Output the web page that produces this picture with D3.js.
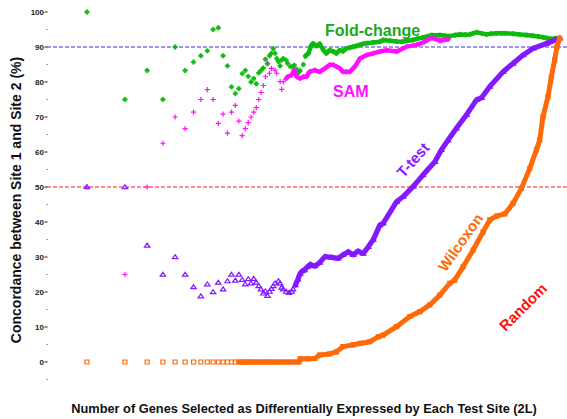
<!DOCTYPE html>
<html>
<head>
<meta charset="utf-8">
<script src="https://cdn.jsdelivr.net/npm/d3@7"></script>
<style>
  body { margin: 0; background: #fff; }
  svg { display: block; font-family: "Liberation Sans", Arial, sans-serif; font-weight: bold; }
</style>
</head>
<body>
<svg width="567" height="419"></svg>
<script>
// [L, concordance %]
const foldChange = [
  [1,100],[2,75],[3,83.3],[4,75],[5,90],[6,83.3],[7,85.7],[8,87.5],[9,88.9],[10,95],
  [11,95.5],[12,87.5],[13,84.6],[14,78.6],[15,76.7],[16,78.1],[17,82.4],[18,83.3],[19,81.6],[20,80],
  [21,81],[22,79.5],[23,82.6],[24,83.3],[25,84],[26,86.5],[27,85.2],[28,87.5],[29,88.2],[30,89.5],
  [31,88.2],[32,86.7],[33,85.8],[34,84.6],[35,86.3],[36,86.7],[38,86.2],[39,85.3],[41,84.4],[43,84.4],
  [44,84.8],[46,83.6],[47,82.5],[49,83.2],[52,85],[54,87.4],[57,88.2],[60,90.4],[62,91],[66,90.3],
  [70,90.9],[75,89.1],[79,88.2],[84,89.1],[90,88.7],[95,88.2],[101,89.1],[107,88.8],[114,89.6],[121,89.8],
  [129,90.1],[137,90.3],[146,90.6],[155,90.9],[165,91.1],[186,91.3],[210,91.5],[223,92],[252,91.8],[285,91.6],
  [319,91.5],[350,91.8],[383,92],[420,92.4],[460,92.7],[500,93],[539,93.4],[580,93.3],[628,93.4],[690,93.2],
  [753,93.1],[830,93.4],[904,93.6],[1000,93.5],[1085,93.6],[1150,93.9],[1226,94.2],[1350,93.9],[1472,93.6],[1600,93.8],
  [1766,93.9],[1950,93.9],[2090,93.9],[2400,93.8],[2698,93.6],[3050,93.4],[3444,93.2],[3800,93],[4131,92.8],[4500,92.5],
  [4810,92.3],[5200,92.5],[5600,92.5]
];

const sam = [
  [1,50],[2,25],[3,50],[4,62.5],[5,70],[6,66.7],[7,71.4],[8,75],[9,77.8],[10,75],
  [11,68.2],[12,70.8],[13,65.4],[14,71.4],[15,73.3],[16,68.8],[17,64.7],[18,66.7],[19,68.4],[20,70],
  [21,71.4],[22,72.7],[23,75],[24,77],[25,79],[26,81.5],[27,85.3],[28,82.5],[29,83.9],[31,83.4],
  [32,82.5],[34,80.1],[35,77.9],[36,80.1],[38,81],[39,81.5],[42,82],[44,83.4],[46,81.5],[49,81],
  [52,81.5],[55,81.5],[58,82.9],[64,83.4],[70,82.9],[77,83.9],[84,84.9],[90,84.9],[95,84.4],[101,83.9],
  [107,82.9],[114,82.9],[121,82.9],[133,84.4],[146,86.7],[165,87.7],[186,88.2],[210,88.7],[237,89.1],[285,88.7],
  [342,90.1],[410,90.6],[477,91.5],[539,92.7],[628,91.8],[730,92.2]
];

const tTest = [
  [1,50],[2,50],[3,33.3],[4,25],[5,30],[6,25],[7,21.4],[8,18.8],[9,22.2],[10,20],
  [11,22.7],[12,20.8],[13,23.1],[14,25],[15,23.3],[16,25],[17,23.5],[18,22.2],[19,23.7],[20,22.5],
  [21,23.8],[22,22.7],[23,21.7],[24,20.8],[25,19.6],[26,20.2],[27,18.9],[28,20.1],[29,20.9],[30,21.7],
  [31,22.5],[33,23.1],[34,22.5],[35,21.3],[36,20.8],[38,20.1],[40,19.8],[42,20.1],[43,20.8],[45,22],
  [47,23.6],[49,25.3],[51,26],[53,26.3],[56,27.2],[59,27.9],[64,27.4],[70,28.4],[77,30.1],[87,29.9],
  [98,29.6],[107,30.6],[118,31.5],[129,30.6],[141,31.7],[155,31],[170,32.9],[186,34.9],[210,39.1],[223,39.6],
  [285,45.8],[320,47.2],[385,50.1],[461,53.4],[573,57.2],[645,60.6],[730,63.4],[850,66.8],[1021,70.6],[1226,74.9],
  [1344,75.5],[1563,78.7],[1993,82.9],[2387,85.3],[2870,87.7],[3444,89.6],[4394,91],[5600,92.5]
];

const wilcoxon = [
  [1,0],[2,0],[3,0],[4,0],[5,0],[6,0],[7,0],[8,0],[9,0],[10,0],
  [11,0],[12,0],[13,0],[14,0],[15,0],[16,0],[17,0],[18,0],[19,0],[20,0],
  [22,0],[24,0],[26,0],[28,0],[30,0],[33,0],[36,0],[40,0],[44,0],[48,0],
  [49,0.9],[56,0.9],[64,1],[70,2],[84,2.3],[95,2.9],[107,4.4],[129,4.9],[146,5.3],[175,5.8],
  [204,7.2],[223,7.7],[285,10.1],[363,13],[436,14.4],[523,16.3],[628,19.1],[753,22.5],[824,23.4],[960,27.2],
  [1153,32],[1384,37.2],[1563,40.6],[1766,41.7],[2056,42.3],[2387,45.3],[2784,49.6],[3242,55.3],[3663,60.6],[3888,63.4],
  [4131,70.1],[4523,75.8],[4810,81.5],[5110,86.3],[5330,90.1],[5600,92.5]
];

const yTicks = [0, 10, 20, 30, 40, 50, 60, 70, 80, 90, 100];
const yMinorTicks = [-5, 5, 15, 25, 35, 45, 55, 65, 75, 85, 95];
const refLines = [90, 50];

const GREEN = '#0fba0f', PINK = '#ff10ff', PURPLE = '#8419ff', ORANGE = '#ff6a08', RED = '#ff1010';

const svg = d3.select('svg');
const x = d3.scaleLog().domain([0.5, 6400]).range([49, 567]);
const y = d3.scaleLinear().domain([0, 100]).range([362, 12]);

// y axis: labels + small dash, dots for the halves
const yAxis = svg.append('g').attr('font-size', 8).attr('fill', '#222');
yAxis.selectAll('text').data(yTicks).enter().append('text')
  .attr('x', 44)
  .attr('y', d => y(d))
  .attr('dy', '0.35em')
  .attr('text-anchor', 'end')
  .text(d => d);
yAxis.selectAll('.major').data(yTicks).enter().append('line')
  .attr('class', 'major')
  .attr('x1', 44.5).attr('x2', 47.5)
  .attr('y1', d => y(d)).attr('y2', d => y(d))
  .attr('stroke', '#222').attr('stroke-width', 1);
yAxis.selectAll('.minor').data(yMinorTicks).enter().append('line')
  .attr('class', 'minor')
  .attr('x1', 46.5).attr('x2', 47.5)
  .attr('y1', d => y(d)).attr('y2', d => y(d))
  .attr('stroke', '#444').attr('stroke-width', 1);

svg.selectAll('.ref').data(refLines).enter().append('line')
  .attr('class', 'ref')
  .attr('x1', 47).attr('x2', 567)
  .attr('y1', d => y(d)).attr('y2', d => y(d))
  .attr('stroke', d => d === 90 ? '#3a2fd8' : '#ff1a1a')
  .attr('stroke-width', 1)
  .attr('stroke-dasharray', '4,2');

const series = [
  { data: foldChange, color: GREEN, dense: 54, width: 4.5, marker: 'M-2.2,-0.9H-0.9V-2.2H0.9V-0.9H2.2V0.9H0.9V2.2H-0.9V0.9H-2.2Z', fill: true },
  { data: sam, color: PINK, dense: 38, width: 4.5, marker: 'M-2.6,0H2.6M0,-2.6V2.6', fill: false },
  { data: tTest, color: PURPLE, dense: 45, width: 5.2, marker: 'M-2.7,1.6L0,-2.3L2.7,1.6Z', fill: false },
  { data: wilcoxon, color: ORANGE, dense: 16, width: 5, marker: 'M-2,-2H2V2H-2Z', fill: false }
];

const line = d3.line().x(d => x(d[0])).y(d => y(d[1]));

series.forEach(s => {
  const g = svg.append('g');
  // the dense part of each series reads as a thick band of overlapping markers
  g.append('path')
    .attr('d', line(s.data.filter(d => d[0] >= s.dense)))
    .attr('fill', 'none')
    .attr('stroke', s.color)
    .attr('stroke-width', s.width)
    .attr('stroke-linejoin', 'round')
    .attr('stroke-linecap', 'round');
  g.selectAll('path.pt').data(s.data).enter().append('path')
    .attr('class', 'pt')
    .attr('transform', d => 'translate(' + x(d[0]) + ',' + y(d[1]) + ')')
    .attr('d', s.marker)
    .attr('fill', s.fill ? s.color : 'none')
    .attr('stroke', s.color)
    .attr('stroke-width', s.fill ? 0.5 : 1.2);
});

// series labels
const labels = [
  { text: 'Fold-change', x: 325, y: 35.5, angle: 0, color: '#1aa81a', anchor: 'start', size: 16 },
  { text: 'SAM', x: 333, y: 97, angle: 0, color: PINK, anchor: 'start', size: 16 },
  { text: 'T-test', x: 413, y: 160, angle: -48, color: PURPLE, anchor: 'middle', size: 15 },
  { text: 'Wilcoxon', x: 460.5, y: 242.5, angle: -55, color: ORANGE, anchor: 'middle', size: 15 },
  { text: 'Random', x: 523, y: 307, angle: -45, color: RED, anchor: 'middle', size: 15 }
];
svg.selectAll('.lbl').data(labels).enter().append('text')
  .attr('class', 'lbl')
  .attr('transform', d => 'translate(' + d.x + ',' + d.y + ') rotate(' + d.angle + ')')
  .attr('text-anchor', d => d.anchor)
  .attr('dy', d => d.angle ? '0.35em' : 0)
  .attr('font-size', d => d.size)
  .attr('fill', d => d.color)
  .text(d => d.text);

svg.append('text')
  .attr('x', 304).attr('y', 413)
  .attr('text-anchor', 'middle')
  .attr('font-size', 12.8)
  .attr('fill', '#111')
  .text('Number of Genes Selected as Differentially Expressed by Each Test Site (2L)');

svg.append('text')
  .attr('transform', 'translate(16.5,200) rotate(-90)')
  .attr('text-anchor', 'middle')
  .attr('dy', '0.35em')
  .attr('font-size', 14)
  .attr('fill', '#111')
  .text('Concordance between Site 1 and Site 2 (%)');
</script>
</body>
</html>
